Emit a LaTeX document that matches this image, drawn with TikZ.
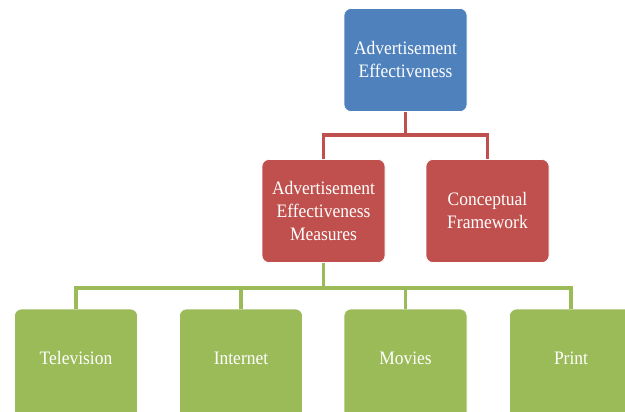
\documentclass[tikz,border=0pt]{standalone}
\usepackage{fontspec}
\setmainfont{Liberation Serif}[FakeStretch=0.92]
\begin{document}
\begin{tikzpicture}[x=1pt,y=-1pt,
  box/.style={rounded corners=7pt, minimum width=123pt, minimum height=103pt, inner sep=0pt,
    text=white, align=center, font=\fontsize{19}{23}\selectfont, draw=white, line width=0.6pt},
  bluebox/.style={box, fill=myblue},
  redbox/.style={box, fill=myred},
  greenbox/.style={box, fill=mygreen, minimum height=110pt, text height=13pt, text depth=12pt},
  redline/.style={draw=myred, line width=3.8pt},
  greenline/.style={draw=mygreen, line width=3.8pt}]
\definecolor{myblue}{HTML}{4F81BD}
\definecolor{myred}{HTML}{C0504D}
\definecolor{mygreen}{HTML}{9BBB59}
\useasboundingbox (0,0) rectangle (625,412);
\begin{scope}
\clip (0,0) rectangle (625,412);
\node[bluebox] (top) at (405.5,60) {Advertisement\\Effectiveness};
\node[redbox] (m1) at (323.5,211) {Advertisement\\Effectiveness\\Measures};
\node[redbox] (m2) at (487.5,211) {Conceptual\\Framework};
\node[greenbox] (g1) at (76,364) {Television};
\node[greenbox] (g2) at (241,364) {Internet};
\node[greenbox] (g3) at (405.5,364) {Movies};
\node[greenbox] (g4) at (571,364) {Print};
\coordinate (rj) at (405.5,135);
\coordinate (gj) at (323.5,288);
\draw[redline] (top.south) -- (rj);
\draw[redline] (m1.north) -- (m1.north |- rj) -- (m2.north |- rj) -- (m2.north);
\draw[greenline] (m1.south) -- (gj);
\draw[greenline] (g1.north) -- (g1.north |- gj) -- (g4.north |- gj) -- (g4.north);
\draw[greenline] (g2.north) -- (g2.north |- gj);
\draw[greenline] (g3.north) -- (g3.north |- gj);
\end{scope}
\end{tikzpicture}
\end{document}
